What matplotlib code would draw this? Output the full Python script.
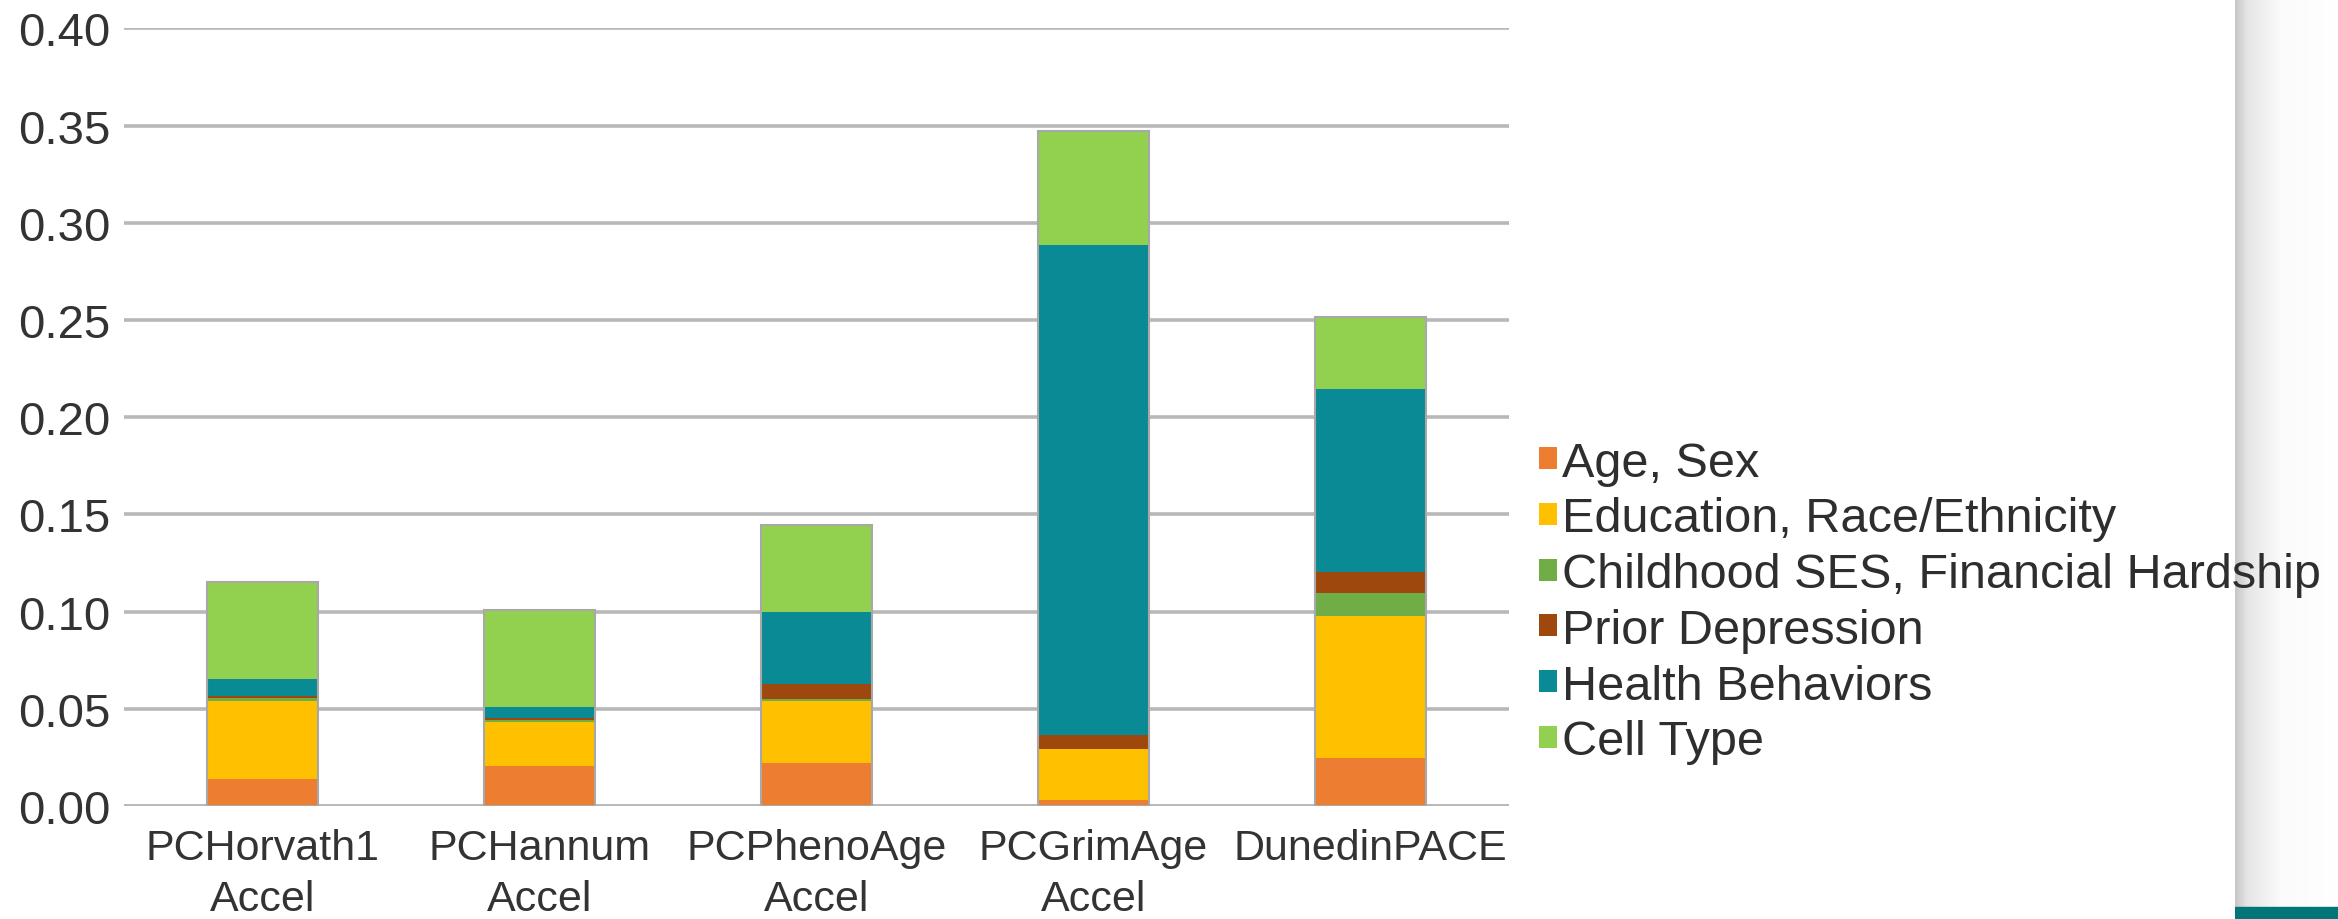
import numpy as np
import matplotlib
matplotlib.use("Agg")
import matplotlib.pyplot as plt
from matplotlib.colors import LinearSegmentedColormap

plt.rcParams["font.family"] = ["Liberation Sans", "DejaVu Sans"]

# Epigenetic clock measures and variance explained by each covariate block
clocks = ["PCHorvath1\nAccel", "PCHannum\nAccel", "PCPhenoAge\nAccel",
          "PCGrimAge\nAccel", "DunedinPACE"]
series_names = ["Age, Sex", "Education, Race/Ethnicity",
                "Childhood SES, Financial Hardship", "Prior Depression",
                "Health Behaviors", "Cell Type"]
age_sex = [0.0139, 0.0204, 0.0221, 0.0030, 0.0245]
education_race = [0.0403, 0.0227, 0.0321, 0.0262, 0.0734]
childhood_ses = [0.0015, 0.0010, 0.0008, 0.0003, 0.0118]
prior_depression = [0.0010, 0.0010, 0.0078, 0.0070, 0.0107]
health_behaviors = [0.0086, 0.0060, 0.0368, 0.2519, 0.0940]
cell_type = [0.0501, 0.0499, 0.0447, 0.0589, 0.0371]
y_ticks = [0.00, 0.05, 0.10, 0.15, 0.20, 0.25, 0.30, 0.35, 0.40]

series = [age_sex, education_race, childhood_ses, prior_depression,
          health_behaviors, cell_type]
colors = ["#ED7D31", "#FFC000", "#70AD47", "#9E480E", "#0A8A94", "#92D050"]

W, H = 2338, 920
fig = plt.figure(figsize=(W / 100, H / 100), dpi=100)

# side panel with soft shadow and teal footer strip
px0 = 2235 / W
pan = fig.add_axes([px0, 0, 1 - px0, 1], zorder=-5)
grad = np.linspace(0, 1, 200)
shade = LinearSegmentedColormap.from_list(
    "shade", [(0, "#c6c6c6"), (0.12, "#e6e6e6"), (0.45, "#fbfbfb"), (1, "#ffffff")])
pan.imshow(grad[None, :], aspect="auto", cmap=shade, extent=[0, 1, 0, 1])
pan.axhspan(0, 12 / H, color="#00757a")
pan.set_xlim(0, 1)
pan.set_ylim(0, 1)
pan.axis("off")

ax = fig.add_axes([124 / W, 1 - 807 / H, (1509 - 124) / W, (807 - 29.3) / H])
x = np.arange(len(clocks))
bottom = np.zeros(len(clocks))
for name, vals, c in zip(series_names, series, colors):
    ax.bar(x, vals, width=0.4, bottom=bottom, color=c, label=name,
           edgecolor="none", zorder=3)
    bottom += np.array(vals)
# thin grey outline around each stacked bar
ax.bar(x, bottom, width=0.4, fill=False, edgecolor="#a8a8a8", linewidth=1.5, zorder=4)

ax.set_xlim(-0.5, len(clocks) - 0.5)
ax.set_ylim(0, 0.40)
ax.set_yticks(y_ticks)
ax.set_yticklabels([f"{v:.2f}" for v in y_ticks], fontsize=34, color="#333333")
ax.set_xticks(x)
ax.set_xticklabels(clocks, fontsize=31, color="#333333", linespacing=1.35)
ax.tick_params(axis="both", length=0)
ax.tick_params(axis="y", pad=10)
ax.tick_params(axis="x", pad=16)
ax.grid(axis="y", color="#b8b8b8", linewidth=2.6, zorder=0)
ax.set_axisbelow(True)
for s in ax.spines.values():
    s.set_visible(False)
ax.axhline(0, color="#b8b8b8", linewidth=2.6, zorder=1)

handles, labels = ax.get_legend_handles_labels()
leg = fig.legend(handles, labels, loc="center left",
                 bbox_to_anchor=(1539 / W, 1 - 603.5 / H),
                 frameon=False, fontsize=35, handlelength=0.36, handleheight=0.32,
                 handletextpad=0.12, labelspacing=0.22, borderpad=0,
                 borderaxespad=0)
for t in leg.get_texts():
    t.set_color("#2e2e2e")

fig.savefig("out.png", dpi=100)
